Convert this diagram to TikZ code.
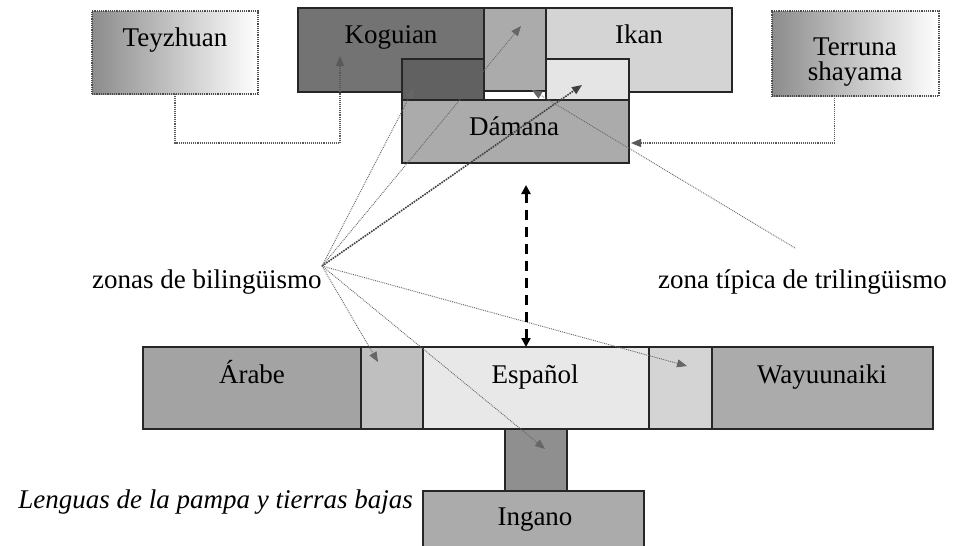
\documentclass[tikz,border=0pt]{standalone}
\usepackage{fontspec}
\setmainfont{Liberation Serif}
\usetikzlibrary{arrows.meta}
\tikzset{
  bx/.style={draw=black!85, line width=1.3pt, inner sep=0pt, outer sep=0pt, anchor=north west},
  gbx/.style={draw=black!70, line width=1.2pt, densely dotted, inner sep=0pt, outer sep=0pt, anchor=north west, left color=black!45, right color=white},
  lbl/.style={font=\fontsize{27}{30}\selectfont, inner sep=0pt, anchor=base},
  conn/.style={draw=black!65, line width=1.1pt, densely dotted, -{Triangle[length=10pt,width=8pt]}},
  thinconn/.style={draw=black!60, line width=0.9pt, densely dotted, -{Triangle[length=10pt,width=8pt]}},
  thickconn/.style={draw=black!75, line width=1.6pt, densely dotted, -{Triangle[length=10pt,width=8pt]}},
  dashconn/.style={draw=black, line width=3pt, dash pattern=on 10pt off 7pt, {Triangle[length=9pt,width=9pt]}-{Triangle[length=9pt,width=9pt]}}
}
\begin{document}
\begin{tikzpicture}[x=1pt,y=-1pt]
\useasboundingbox[fill=white] (0,0) rectangle (953,546);
% top row
\node[gbx, minimum width=166pt, minimum height=83pt] (tey) at (92,11) {};
\node[lbl] (teyT) at (175,46) {Teyzhuan};
\node[bx, fill=black!55, minimum width=186pt, minimum height=84pt] (kog) at (298,8) {};
\node[lbl] (kogT) at (391,43) {Koguian};
\node[bx, fill=black!33, minimum width=62pt, minimum height=83pt] (midtop) at (484,8) {};
\node[bx, fill=black!17, minimum width=186pt, minimum height=84pt] (ikan) at (546,8) {};
\node[lbl] (ikanT) at (639,43) {Ikan};
\node[bx, fill=black!62, minimum width=82pt, minimum height=41pt] (dsm) at (402,59) {};
\node[bx, fill=black!10, minimum width=83pt, minimum height=41pt] (lsm) at (546,59) {};
\node[bx, fill=black!33, minimum width=227pt, minimum height=63pt] (dam) at (402,100) {};
\node[lbl] (damT) at (514,135) {Dámana};
\node[gbx, minimum width=167pt, minimum height=85pt] (ter) at (772,11) {};
\node[lbl] (terT1) at (855,55) {Terruna};
\node[lbl] (terT2) at (855,80) {shayama};
% middle labels
\node[lbl, anchor=base west] (bil) at (92,288) {zonas de bilingüismo};
\node[lbl, anchor=base west] (tri) at (658,288) {zona típica de trilingüismo};
% bottom row
\node[bx, fill=black!36, minimum width=218pt, minimum height=82pt] (ara) at (143,347) {};
\node[lbl] (araT) at (252,383) {Árabe};
\node[bx, fill=black!25, minimum width=62pt, minimum height=82pt] (sl) at (361,347) {};
\node[bx, fill=black!9, minimum width=226pt, minimum height=82pt] (esp) at (423,347) {};
\node[lbl] (espT) at (535,383) {Español};
\node[bx, fill=black!17, minimum width=63pt, minimum height=82pt] (sr) at (649,347) {};
\node[bx, fill=black!33, minimum width=221pt, minimum height=82pt] (way) at (712,347) {};
\node[lbl] (wayT) at (822,383) {Wayuunaiki};
\node[bx, fill=black!44, minimum width=62pt, minimum height=62pt] (ings) at (505,429) {};
\node[bx, fill=black!33, minimum width=221pt, minimum height=60pt] (ing) at (423,491) {};
\node[lbl] (ingT) at (535,525) {Ingano};
\node[lbl, anchor=base east, font=\fontsize{27}{30}\selectfont\itshape] (len) at (413,508) {Lenguas de la pampa y tierras bajas};
% coordinates
\coordinate (tk) at (340,56);
\coordinate (tt) at (631,143);
\coordinate (B) at (322,266);
\coordinate (a1) at (521,26);
\coordinate (a2) at (414,88);
\coordinate (a3) at (582,85);
\coordinate (a4) at (378,362);
\coordinate (a5) at (545,449);
\coordinate (a6) at (687,366);
\coordinate (z0) at (795,248);
\coordinate (z1) at (532,90);
\coordinate (d1) at (526,185);
\coordinate (d2) at (526,347);
% connectors
\draw[conn] (tey.south) -- ++(0,49) -| (tk);
\draw[conn] ([xshift=-21pt]ter.south) |- (tt);
\draw[thinconn] (B) -- (a1);
\draw[thinconn] (B) -- (a2);
\draw[thickconn] (B) -- (a3);
\draw[thinconn] (B) -- (a4);
\draw[thinconn] (B) -- (a5);
\draw[thinconn] (B) -- (a6);
\draw[thinconn] (z0) -- (z1);
\draw[dashconn] (d1) -- (d2);
\end{tikzpicture}
\end{document}
